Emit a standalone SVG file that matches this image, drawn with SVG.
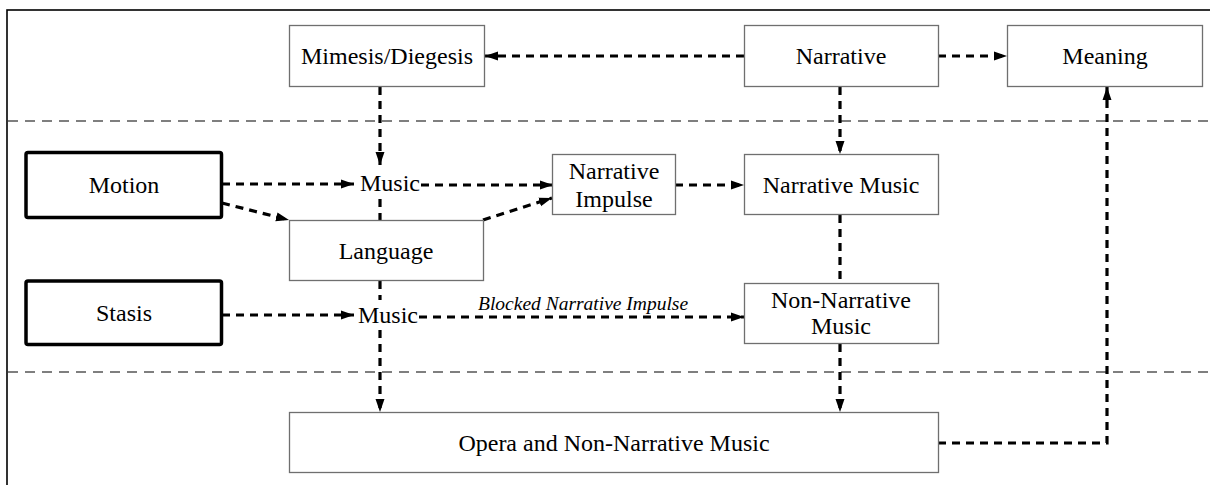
<svg xmlns="http://www.w3.org/2000/svg" width="1210" height="485" viewBox="0 0 1210 485">
<style>
.box{fill:#fff;stroke:#6f6f6f;stroke-width:1.3}
.thick{fill:#fff;stroke:#000;stroke-width:3.5}
.t{font-family:"Liberation Serif","Times New Roman",serif;font-size:24px;fill:#000;text-anchor:middle}
.ts{font-family:"Liberation Serif","Times New Roman",serif;font-size:24px;fill:#000}
.it{font-family:"Liberation Serif","Times New Roman",serif;font-size:19.5px;font-style:italic;fill:#000}
.c{fill:none;stroke:#000;stroke-width:3.2;stroke-dasharray:8 6}
.sep{fill:none;stroke:#555;stroke-width:1.3;stroke-dasharray:10 7}
</style>
<defs>
<marker id="ah" markerUnits="userSpaceOnUse" markerWidth="14" markerHeight="10" refX="13" refY="5" orient="auto">
<path d="M0,0.5 L13,5 L0,9.5 z" fill="#000"/>
</marker>
</defs>
<rect x="0" y="0" width="1210" height="485" fill="#fff"/>
<rect x="7" y="10" width="1215" height="490" fill="none" stroke="#000" stroke-width="1.6"/>
<g id="separators">
<line class="sep" x1="8" y1="121" x2="1210" y2="121"/>
<line class="sep" x1="8" y1="372" x2="1210" y2="372"/>
</g>
<g id="connectors">
<line class="c" x1="744" y1="56" x2="485" y2="56" marker-end="url(#ah)"/>
<line class="c" x1="938" y1="56" x2="1007" y2="56" marker-end="url(#ah)"/>
<line class="c" x1="380" y1="87" x2="380" y2="165" marker-end="url(#ah)"/>
<line class="c" x1="840" y1="87" x2="840" y2="154" marker-end="url(#ah)"/>
<line class="c" x1="222" y1="184" x2="354" y2="184" marker-end="url(#ah)"/>
<polyline class="c" points="222,203 289,220" marker-end="url(#ah)"/>
<line class="c" x1="421" y1="185" x2="553" y2="185" marker-end="url(#ah)"/>
<polyline class="c" points="483,220 552,198" marker-end="url(#ah)"/>
<line class="c" x1="675" y1="185" x2="744" y2="185" marker-end="url(#ah)"/>
<line class="c" x1="380" y1="199" x2="380" y2="220"/>
<line class="c" x1="380" y1="281" x2="380" y2="300"/>
<line class="c" x1="840" y1="215" x2="840" y2="283"/>
<line class="c" x1="222" y1="315" x2="354" y2="315" marker-end="url(#ah)"/>
<line class="c" x1="419" y1="317" x2="744" y2="317" marker-end="url(#ah)"/>
<line class="c" x1="380" y1="330" x2="380" y2="412" marker-end="url(#ah)"/>
<line class="c" x1="840" y1="344" x2="840" y2="412" marker-end="url(#ah)"/>
<polyline class="c" points="938,443 1107,443 1107,87" marker-end="url(#ah)"/>
<text class="it" x="478" y="310">Blocked Narrative Impulse</text>
</g>
<g id="mimesis"><rect class="box" x="289.5" y="25.5" width="195" height="61"/><text class="t" x="387" y="64">Mimesis/Diegesis</text></g>
<g id="narrative"><rect class="box" x="744.5" y="25.5" width="194" height="61"/><text class="t" x="841" y="64">Narrative</text></g>
<g id="meaning"><rect class="box" x="1007.5" y="25.5" width="195" height="61"/><text class="t" x="1105" y="64">Meaning</text></g>
<g id="motion"><rect class="thick" x="26" y="152.5" width="195.5" height="65" rx="2"/><text class="t" x="124" y="193">Motion</text></g>
<g id="music1"><text class="ts" x="360" y="191">Music</text></g>
<g id="narrative-impulse"><rect class="box" x="552.5" y="154.5" width="123" height="60"/><text class="t" x="614" y="179">Narrative</text><text class="t" x="614" y="207">Impulse</text></g>
<g id="narrative-music"><rect class="box" x="744.5" y="154.5" width="194" height="60"/><text class="t" x="841" y="193">Narrative Music</text></g>
<g id="language"><rect class="box" x="289.5" y="220.5" width="194" height="60"/><text class="t" x="386" y="259">Language</text></g>
<g id="stasis"><rect class="thick" x="26" y="281" width="195.5" height="63.5" rx="2"/><text class="t" x="124" y="321">Stasis</text></g>
<g id="music2"><text class="ts" x="358" y="323">Music</text></g>
<g id="non-narrative-music"><rect class="box" x="744.5" y="283.5" width="194" height="60"/><text class="t" x="841" y="308">Non-Narrative</text><text class="t" x="841" y="334">Music</text></g>
<g id="opera"><rect class="box" x="289.5" y="412.5" width="649" height="60"/><text class="t" x="614" y="451">Opera and Non-Narrative Music</text></g>
</svg>
